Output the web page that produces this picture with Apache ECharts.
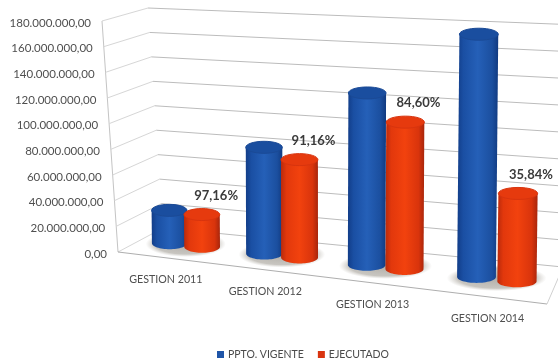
<!DOCTYPE html>
<html>
<head>
<meta charset="utf-8">
<style>
  html, body { margin: 0; padding: 0; background: #ffffff; }
  #chart { width: 558px; height: 364px; }
</style>
<script src="https://cdn.jsdelivr.net/npm/echarts@6/dist/echarts.min.js"></script>
</head>
<body>
<div id="chart"></div>
<script>
// Budget per management year
const categories = ['GESTION 2011', 'GESTION 2012', 'GESTION 2013', 'GESTION 2014'];
const pptoVigente = [26000000, 82000000, 129000000, 177000000];
const ejecutado = [25260000, 74750000, 109130000, 63440000];
const percentLabels = ['97,16%', '91,16%', '84,60%', '35,84%'];
const yTicks = [0, 20000000, 40000000, 60000000, 80000000, 100000000, 120000000, 140000000, 160000000, 180000000];
const tickLabels = ['0,00', '20.000.000,00', '40.000.000,00', '60.000.000,00', '80.000.000,00',
  '100.000.000,00', '120.000.000,00', '140.000.000,00', '160.000.000,00', '180.000.000,00'];

// Box corners of the tilted 3D view, in canvas pixels
const FRONT = { tl: [102, 21], tr: [556, 43], bl: [118, 252], br: [547, 304] };
const BACK = { tl: [148, 8], tr: [566, 24.5], bl: [163, 228], br: [563, 267] };
const PERSPECTIVE = 0.145;
const HALF_BAND = 0.044;
const FONT = 'Lato';

const lerp = (a, b, k) => a + (b - a) * k;
const bilinear = (q, s, t) => [0, 1].map(i =>
  lerp(lerp(q.bl[i], q.br[i], s), lerp(q.tl[i], q.tr[i], s), t));

// s: position along categories, t: share of the value range, d: 0 front .. 1 back
function project(s, t, d) {
  const warped = s - PERSPECTIVE * s * (1 - s);
  const f = bilinear(FRONT, warped, t);
  const b = bilinear(BACK, warped, t);
  return [lerp(f[0], b[0], d), lerp(f[1], b[1], d)];
}

// Converts a value on the hidden flat axes into the view's (s, t) pair
function toView(params, api, cat, val) {
  const cs = params.coordSys;
  const p = api.coord([cat, val]);
  return [(p[0] - cs.x) / cs.width, 1 - (p[1] - cs.y) / cs.height];
}

const segment = (a, b, color) => ({
  type: 'line',
  shape: { x1: a[0], y1: a[1], x2: b[0], y2: b[1] },
  style: { stroke: color, lineWidth: 1, fill: null }
});

// Walls, floor edges and value labels
function renderFrame(params, api) {
  const val = api.value(0);
  const t = toView(params, api, 0, val)[1];
  const front = project(0, t, 0);
  const children = [
    segment(front, project(0, t, 1), '#d6d6d6'),
    segment(project(0, t, 1), project(1, t, 1), '#bcbcbc'),
    {
      type: 'text',
      style: {
        text: tickLabels[params.dataIndex],
        x: front[0] - 11, y: front[1] + 2,
        align: 'right', verticalAlign: 'middle',
        font: '11.5px ' + FONT, fill: '#4f4f4f'
      }
    }
  ];
  if (params.dataIndex === 0) {
    children.push(segment(project(0, 0, 0), project(0, 1, 0), '#c4c4c4'));
    children.push(segment(project(0, 0, 0), project(1, 0, 0), '#aeaeae'));
    children.push(segment(project(1, 0, 0), project(1, 0, 1), '#d0d0d0'));
  }
  return { type: 'group', children };
}

// Soft floor shadow and category caption under each pair of columns
function renderFloor(params, api) {
  const s = toView(params, api, api.value(0), 0)[0];
  const c = project(s, 0, 0.5);
  const w = project(s + HALF_BAND, 0, 0.5)[0] - c[0];
  const caption = project(s, 0, 0);
  const r = w * 2.45;
  return {
    type: 'group',
    children: [
      {
        type: 'circle',
        x: c[0], y: c[1] - 1,
        scaleY: 13 / r,
        shape: { cx: 0, cy: 0, r },
        style: {
          fill: {
            type: 'radial', x: 0.5, y: 0.5, r: 0.5,
            colorStops: [
              { offset: 0, color: 'rgba(135,130,120,0.65)' },
              { offset: 0.78, color: 'rgba(145,140,130,0.5)' },
              { offset: 1, color: 'rgba(175,170,160,0)' }
            ]
          }
        }
      },
      {
        type: 'text',
        style: {
          text: categories[params.dataIndex],
          x: caption[0] + 1, y: caption[1] + 22,
          align: 'center', verticalAlign: 'middle',
          font: '10.7px ' + FONT, fill: '#4f4f4f'
        }
      }
    ]
  };
}

function ellipseArc(c, rx, ry, from, to, steps) {
  const pts = [];
  for (let i = 0; i <= steps; i++) {
    const a = lerp(from, to, i / steps);
    pts.push([c[0] + rx * Math.cos(a), c[1] + ry * Math.sin(a)]);
  }
  return pts;
}

// One column: body with a cylindrical shading plus a cap, placed by axis values
function cylinderRenderer(side, stops, capColor, capEdge, labels) {
  return function (params, api) {
    const cat = api.value(0);
    const val = api.value(1);
    const v = toView(params, api, cat, val);
    const s = v[0] + side * HALF_BAND;
    const base = project(s, 0, 0.5);
    const topY = project(s, v[1], 0.5)[1];
    // Columns stand almost upright, leaning very slightly with the view
    const lean = lerp(-0.012, 0.014, s) * (base[1] - topY);
    const top = [base[0] + lean, topY];
    const rx = lerp(17.5, 19.8, s);
    const ry = 6;
    const outline = [[top[0] - rx, top[1]]]
      .concat(ellipseArc(base, rx, ry, Math.PI, 0, 32))
      .concat([[top[0] + rx, top[1]]]);
    const children = [
      {
        type: 'polygon',
        shape: { points: outline },
        style: {
          fill: {
            type: 'linear', x: 0, y: 0, x2: 1, y2: 0,
            colorStops: stops
          }
        }
      },
      {
        type: 'ellipse',
        shape: { cx: top[0], cy: top[1], rx, ry },
        style: { fill: capColor, stroke: capEdge, lineWidth: 1 }
      }
    ];
    if (labels) {
      children.push({
        type: 'text',
        style: {
          text: labels[params.dataIndex],
          x: base[0] + 14, y: top[1] - 19,
          align: 'center', verticalAlign: 'middle',
          font: 'bold 13px ' + FONT, fill: '#3a3a3a'
        }
      });
    }
    return { type: 'group', children };
  };
}

const BLUE_STOPS = [
  { offset: 0, color: '#123d88' },
  { offset: 0.15, color: '#1a4fa3' },
  { offset: 0.5, color: '#2560b8' },
  { offset: 0.85, color: '#1b4f9f' },
  { offset: 1, color: '#113a80' }
];
const RED_STOPS = [
  { offset: 0, color: '#b92a0c' },
  { offset: 0.15, color: '#e2380c' },
  { offset: 0.5, color: '#f2420e' },
  { offset: 0.85, color: '#d9340c' },
  { offset: 1, color: '#a8260c' }
];

const chart = echarts.init(document.getElementById('chart'), null, { renderer: 'canvas' });
chart.setOption({
  animation: false,
  backgroundColor: '#ffffff',
  grid: { left: 0, top: 0, width: 558, height: 364 },
  xAxis: { type: 'category', data: categories, show: false },
  yAxis: { type: 'value', min: 0, max: 180000000, interval: 20000000, show: false },
  legend: {
    data: ['PPTO. VIGENTE', 'EJECUTADO'],
    left: 212, top: 344,
    itemWidth: 7, itemHeight: 7, itemGap: 14,
    icon: 'rect',
    textStyle: { fontFamily: FONT, fontSize: 10.5, color: '#4a4a4a', padding: [0, 0, 0, -1] }
  },
  series: [
    {
      type: 'custom', name: 'frame', z: 1, silent: true,
      renderItem: renderFrame,
      encode: { y: 0 },
      data: yTicks.map(v => [v])
    },
    {
      type: 'custom', name: 'floor', z: 2, silent: true,
      renderItem: renderFloor,
      encode: { x: 0 },
      data: categories.map((c, i) => [i])
    },
    {
      type: 'custom', name: 'PPTO. VIGENTE', z: 3,
      itemStyle: { color: '#1f55a8' },
      renderItem: cylinderRenderer(-1, BLUE_STOPS, '#1a4e9f', '#1a4a96', null),
      encode: { x: 0, y: 1 },
      data: pptoVigente.map((v, i) => [i, v])
    },
    {
      type: 'custom', name: 'EJECUTADO', z: 4,
      itemStyle: { color: '#d9340f' },
      renderItem: cylinderRenderer(1, RED_STOPS, '#e63a0e', '#d8340e', percentLabels),
      encode: { x: 0, y: 1 },
      data: ejecutado.map((v, i) => [i, v])
    }
  ]
});
</script>
</body>
</html>
